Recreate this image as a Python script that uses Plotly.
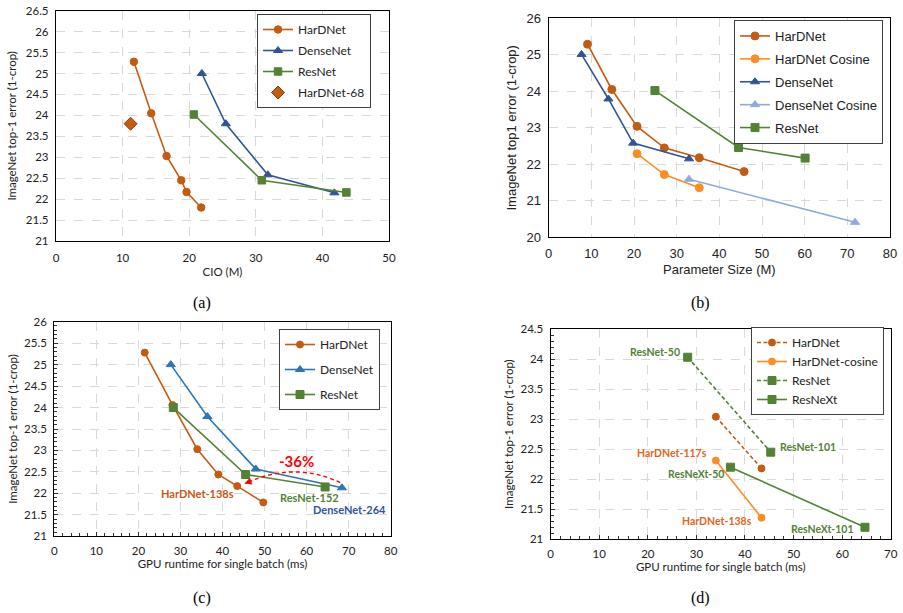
import plotly.graph_objects as go

# ---------------- data ----------------
# (a) CIO vs error
a_hardnet_x = [11.7, 14.3, 16.6, 18.8, 19.6, 21.8]
a_hardnet_y = [25.28, 24.05, 23.03, 22.45, 22.17, 21.8]
a_densenet_x = [21.9, 25.5, 31.8, 41.8]
a_densenet_y = [25.0, 23.8, 22.58, 22.15]
a_resnet_x = [20.7, 30.9, 43.6]
a_resnet_y = [24.02, 22.45, 22.16]
a_hd68_x = [11.2]
a_hd68_y = [23.8]

# (b) parameter size vs error
b_hardnet_x = [9.1, 14.8, 20.7, 27.1, 35.3, 45.8]
b_hardnet_y = [25.29, 24.05, 23.04, 22.45, 22.18, 21.8]
b_hdcos_x = [20.7, 27.1, 35.3]
b_hdcos_y = [22.29, 21.72, 21.36]
b_densenet_x = [7.7, 14.0, 19.8, 32.9]
b_densenet_y = [25.01, 23.79, 22.58, 22.15]
b_dncos_x = [32.9, 71.8]
b_dncos_y = [21.59, 20.41]
b_resnet_x = [24.9, 44.5, 60.1]
b_resnet_y = [24.02, 22.46, 22.17]

# (c) GPU runtime vs error
c_hardnet_x = [21.5, 28.1, 34.0, 39.0, 43.5, 49.7]
c_hardnet_y = [25.28, 24.06, 23.03, 22.44, 22.17, 21.79]
c_densenet_x = [27.7, 36.4, 47.9, 68.4]
c_densenet_y = [25.0, 23.79, 22.57, 22.13]
c_resnet_x = [28.3, 45.5, 64.4]
c_resnet_y = [24.0, 22.44, 22.15]

# (d) GPU runtime vs error
d_hardnet_x = [34.0, 43.4]
d_hardnet_y = [23.04, 22.18]
d_hdcos_x = [34.0, 43.4]
d_hdcos_y = [22.31, 21.36]
d_resnet_x = [28.2, 45.3]
d_resnet_y = [24.03, 22.45]
d_resnext_x = [37.0, 64.7]
d_resnext_y = [22.2, 21.2]

# ---------------- styles ----------------
C_HD = "#C55A11"
C_HDCOS = "#FF8C21"
C_DN = "#2F5597"
C_DN_C = "#2E75B6"
C_DNCOS = "#8FAADC"
C_RN = "#548235"
C_LBL_HD = "#E2661C"
CAL = "Lato"
ARL = "Liberation Sans"
GRID = "#D9D9D9"

W, H = 903, 613


def px(x):
    return x / W


def py(y):
    return 1 - y / H


fig = go.Figure()


def add(x, y, name, color, symbol, size, xa, ya, legend, group, dash="solid", mode="lines+markers", lc=None):
    fig.add_trace(go.Scatter(
        x=x, y=y, name=name, mode=mode,
        line=dict(color=color, width=1.6, dash=dash),
        marker=dict(color=color, symbol=symbol, size=size,
                    line=dict(color=lc or color, width=1)),
        xaxis=xa, yaxis=ya, legend=legend, legendgroup=group,
    ))


SHORT = "4px,2.5px"

# (a)
add(a_hardnet_x, a_hardnet_y, "HarDNet", C_HD, "circle", 7.5, "x", "y", "legend", "a1")
add(a_densenet_x, a_densenet_y, "DenseNet", C_DN, "triangle-up", 8, "x", "y", "legend", "a2")
add(a_resnet_x, a_resnet_y, "ResNet", C_RN, "square", 7.5, "x", "y", "legend", "a3")
add(a_hd68_x, a_hd68_y, "HarDNet-68", C_HD, "diamond", 10, "x", "y", "legend", "a4", mode="markers", lc="#843C0C")

# (b)
add(b_hardnet_x, b_hardnet_y, "HarDNet", C_HD, "circle", 8, "x2", "y2", "legend2", "b1")
add(b_hdcos_x, b_hdcos_y, "HarDNet Cosine", C_HDCOS, "circle", 8, "x2", "y2", "legend2", "b2")
add(b_densenet_x, b_densenet_y, "DenseNet", C_DN, "triangle-up", 8, "x2", "y2", "legend2", "b3")
add(b_dncos_x, b_dncos_y, "DenseNet Cosine", C_DNCOS, "triangle-up", 8, "x2", "y2", "legend2", "b4")
add(b_resnet_x, b_resnet_y, "ResNet", C_RN, "square", 8, "x2", "y2", "legend2", "b5")

# (c)
add(c_hardnet_x, c_hardnet_y, "HarDNet", C_HD, "circle", 7, "x3", "y3", "legend3", "c1")
add(c_densenet_x, c_densenet_y, "DenseNet", C_DN_C, "triangle-up", 8, "x3", "y3", "legend3", "c2")
add(c_resnet_x, c_resnet_y, "ResNet", C_RN, "square", 8, "x3", "y3", "legend3", "c3")

# (d)
add(d_hardnet_x, d_hardnet_y, "HarDNet", C_HD, "circle", 7, "x4", "y4", "legend4", "d1", dash=SHORT)
add(d_hdcos_x, d_hdcos_y, "HarDNet-cosine", C_HDCOS, "circle", 7, "x4", "y4", "legend4", "d2")
add(d_resnet_x, d_resnet_y, "ResNet", C_RN, "square", 8, "x4", "y4", "legend4", "d3", dash=SHORT)
add(d_resnext_x, d_resnext_y, "ResNeXt", C_RN, "square", 8, "x4", "y4", "legend4", "d4")


def axis(domain, rng, dtick, anchor, title, font, size, minor=None, standoff=8, tstand=4):
    d = dict(
        domain=domain, range=rng, dtick=dtick, tick0=rng[0], anchor=anchor,
        showline=True, linecolor="black", linewidth=1.3, mirror=True,
        showgrid=True, gridcolor=GRID, griddash="dash", gridwidth=1,
        zeroline=False, ticks="", tickfont=dict(family=font, size=size, color="#222"),
        title=dict(text=title, font=dict(family=font, size=size, color="#222"), standoff=standoff),
        ticklabelstandoff=tstand, ticklabeloverflow="allow", automargin=False,
    )
    if minor:
        d["ticks"] = "inside"
        d["ticklen"] = 4
        d["tickcolor"] = "#333"
        d["minor"] = dict(ticks="inside", dtick=minor, ticklen=3, tickcolor="#333", showgrid=False)
    return d


layout = dict(
    width=W, height=H, margin=dict(l=0, r=0, t=0, b=0, autoexpand=False),
    paper_bgcolor="white", plot_bgcolor="white", showlegend=True,
    xaxis=axis([px(56), px(389)], [0, 50], 10, "y", "CIO (M)", CAL, 11.5, standoff=4, tstand=6),
    yaxis=axis([py(241), py(10.7)], [21, 26.5], 0.5, "x", "ImageNet top-1 error (1-crop)", CAL, 11.5, standoff=6, tstand=4),
    xaxis2=axis([px(548.7), px(890)], [0, 80], 10, "y2", "Parameter Size (M)", ARL, 13, standoff=4, tstand=4),
    yaxis2=axis([py(237.3), py(18.3)], [20, 26], 1, "x2", "ImageNet top1 error (1-crop)", ARL, 13, standoff=6, tstand=4),
    xaxis3=axis([px(54.3), px(390.7)], [0, 80], 10, "y3", "GPU runtime for single batch (ms)", CAL, 11.5, minor=2, standoff=2, tstand=4),
    yaxis3=axis([py(536.3), py(321.7)], [21, 26], 0.5, "x3", "ImageNet top-1 error (1-crop)", CAL, 11.5, minor=0.1, standoff=4, tstand=4),
    xaxis4=axis([px(550.7), px(890.7)], [0, 70], 10, "y4", "GPU runtime for single batch (ms)", CAL, 11.5, minor=2, standoff=2, tstand=4),
    yaxis4=axis([py(539.3), py(329)], [21, 24.5], 0.5, "x4", "ImageNet top-1 error (1-crop)", CAL, 11.5, minor=0.1, standoff=4, tstand=4),
)


def leg(xr, y, font, size, gap):
    return dict(x=px(xr), y=py(y), xanchor="right", yanchor="top", xref="paper", yref="paper",
                bgcolor="white", bordercolor="#404040", borderwidth=1,
                font=dict(family=font, size=size, color="#222"),
                tracegroupgap=gap, traceorder="grouped", itemwidth=30)


layout["legend"] = leg(371, 14, CAL, 12, 2)
layout["legend2"] = leg(883, 20, ARL, 13, 3)
layout["legend3"] = leg(380, 329, CAL, 12, 6)
layout["legend4"] = leg(884, 327, CAL, 12, 0)

fig.update_layout(**layout)

# ---------------- annotations ----------------
ann = []


def lab(text, x, y, xr, yr, color, size=11, xanchor="center", bold=True):
    ann.append(dict(text=("<b>%s</b>" % text) if bold else text, x=x, y=y, xref=xr, yref=yr,
                    showarrow=False, xanchor=xanchor, yanchor="middle",
                    font=dict(family=CAL, size=size, color=color)))


# (c) labels
lab("HarDNet-138s", 34.0, 21.99, "x3", "y3", C_HD)
lab("ResNet-152", 60.8, 21.9, "x3", "y3", C_RN)
lab("DenseNet-264", 70.3, 21.63, "x3", "y3", C_DN)
lab("-36%", 57.7, 22.76, "x3", "y3", "#FF0000", size=15)
# arrow head of the arc
ann.append(dict(x=45.2, y=22.23, ax=47.0, ay=22.29, xref="x3", yref="y3", axref="x3", ayref="y3",
                showarrow=True, arrowhead=2, arrowsize=1.2, arrowwidth=1.2, arrowcolor="#FF0000", text=""))

# (d) labels
lab("ResNet-50", 27.0, 24.12, "x4", "y4", C_RN, size=10.5, xanchor="right")
lab("ResNet-101", 46.7, 22.54, "x4", "y4", C_RN, size=10.5, xanchor="left")
lab("HarDNet-117s", 32.5, 22.43, "x4", "y4", C_LBL_HD, size=10.5, xanchor="right")
lab("ResNeXt-50", 36.0, 22.09, "x4", "y4", C_RN, size=10.5, xanchor="right")
lab("HarDNet-138s", 41.9, 21.3, "x4", "y4", C_LBL_HD, size=10.5, xanchor="right")
lab("ResNeXt-101", 62.9, 21.17, "x4", "y4", C_RN, size=10.5, xanchor="right")

# captions
for t, cx, cy in [("(a)", 201.7, 303), ("(b)", 700, 303), ("(c)", 201.7, 598), ("(d)", 700, 598)]:
    ann.append(dict(text=t, x=px(cx), y=py(cy), xref="paper", yref="paper", showarrow=False,
                    xanchor="center", yanchor="middle",
                    font=dict(family="Liberation Serif", size=16, color="black")))

fig.update_layout(annotations=ann)

# dashed red arc in (c)
fig.add_shape(type="path", path="M 68,22.25 Q 57,22.76 45.4,22.23", xref="x3", yref="y3",
              line=dict(color="#FF0000", width=1.4, dash="4px,3px"), layer="above")

# remove the default page margin so the figure fills the window exactly
fig.write_html("out.html", config={"displayModeBar": False},
               post_script="document.body.style.margin='0px';")
